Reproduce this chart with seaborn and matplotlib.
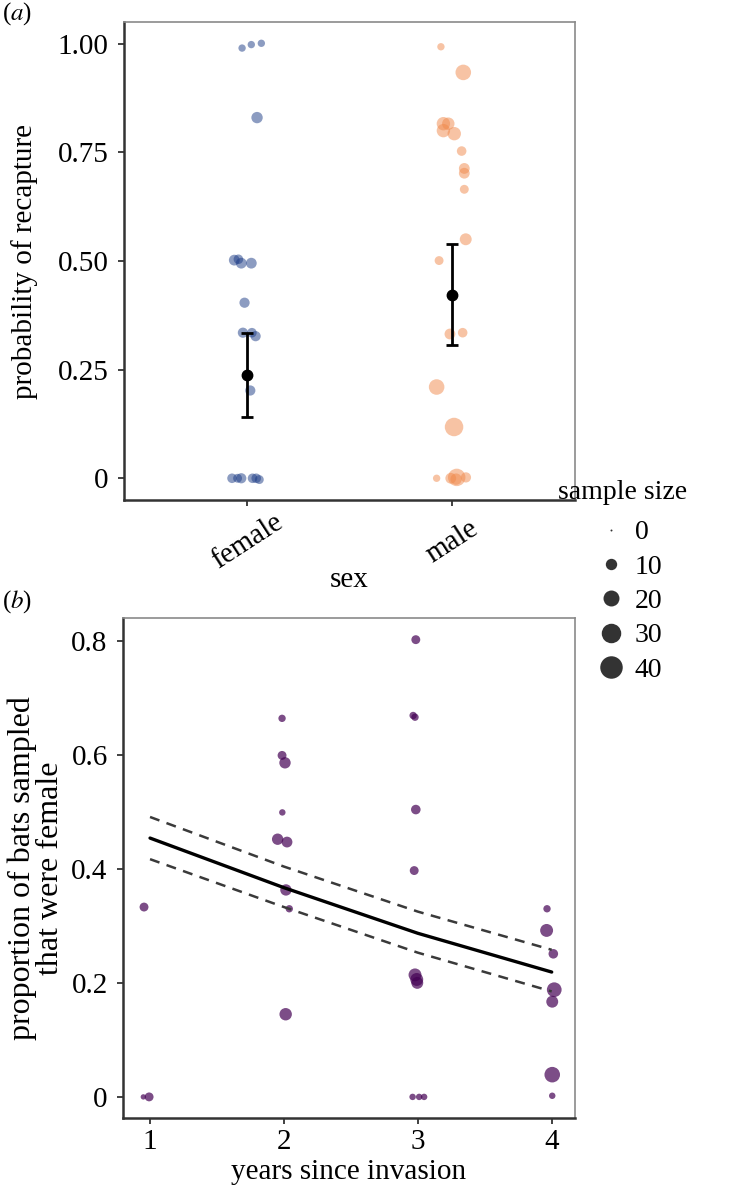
import matplotlib.pyplot as plt
import matplotlib.transforms as mtransforms
from matplotlib.lines import Line2D
import pandas as pd
import seaborn as sns

# (a) recapture probability, x = category index + jitter
fem_x = [-0.024, 0.021, 0.070, 0.049, -0.062, -0.042, -0.028, 0.021, -0.012, -0.020,
         0.024, 0.042, 0.016, -0.073, -0.046, -0.028, 0.027, 0.045, 0.060]
fem_y = [0.990, 0.998, 1.001, 0.830, 0.502, 0.504, 0.495, 0.495, 0.404, 0.335,
         0.335, 0.327, 0.202, 0.0, 0.0, 0.0, 0.0, 0.0, -0.003]
fem_n = [4, 4, 4, 10, 9, 7, 9, 9, 8, 8, 7, 8, 8, 7, 6, 8, 7, 7, 6]

male_x = [0.946, 1.055, 0.958, 0.982, 0.958, 1.011, 1.047, 1.060, 1.060, 1.060,
          1.067, 0.937, 0.990, 1.052, 0.925, 1.010, 0.925, 0.994, 1.023, 1.020, 1.068]
male_y = [0.993, 0.934, 0.816, 0.816, 0.800, 0.793, 0.753, 0.713, 0.702, 0.665,
          0.550, 0.501, 0.332, 0.335, 0.210, 0.118, 0.0, 0.0, 0.002, -0.002, 0.002]
male_n = [4, 19, 14, 12, 14, 14, 7, 9, 9, 6, 11, 6, 9, 7, 19, 27, 4, 9, 24, 10, 8]

sex_levels = ['female', 'male']
sex_mean = [0.237, 0.421]
sex_lo = [0.141, 0.306]
sex_hi = [0.335, 0.538]

# (b) proportion female by years since invasion
yr_x = [0.955, 0.950, 0.993,
        1.986, 1.986, 2.008, 1.988, 1.953, 2.023, 2.015, 2.040, 2.013,
        2.985, 2.965, 2.979, 2.985, 2.973, 2.979, 2.992, 2.996, 2.961, 3.010, 3.047,
        3.965, 3.962, 4.012, 4.019, 4.004, 4.004, 4.004]
yr_y = [0.333, 0.0, 0.0,
        0.664, 0.599, 0.586, 0.499, 0.452, 0.447, 0.363, 0.330, 0.145,
        0.802, 0.669, 0.666, 0.504, 0.397, 0.214, 0.206, 0.200, 0.0, 0.0, 0.0,
        0.330, 0.292, 0.251, 0.188, 0.167, 0.039, 0.002]
yr_n = [6, 2, 6,
        4, 6, 10, 3, 10, 9, 10, 4, 12,
        6, 4, 4, 7, 6, 13, 13, 11, 3, 3, 3,
        4, 13, 7, 17, 11, 19, 3]

years = [1, 2, 3, 4]
fit = [0.454, 0.367, 0.287, 0.219]
fit_hi = [0.491, 0.404, 0.325, 0.258]
fit_lo = [0.417, 0.333, 0.253, 0.185]

legend_n = [0, 10, 20, 30, 40]

sns.set_style("white")
plt.rcParams['font.family'] = ['Liberation Serif', 'DejaVu Serif']
plt.rcParams['mathtext.fontset'] = 'stix'
plt.rcParams['text.color'] = 'black'
plt.rcParams['axes.labelcolor'] = 'black'
plt.rcParams['xtick.labelcolor'] = 'black'
plt.rcParams['ytick.labelcolor'] = 'black'

SIZES = (2, 262)
NORM = (0, 40)
FS = 21


def style_axes(ax):
    for side in ['left', 'bottom']:
        ax.spines[side].set_color('#333333')
        ax.spines[side].set_linewidth(1.8)
    for side in ['top', 'right']:
        ax.spines[side].set_color('#8a8a8a')
        ax.spines[side].set_linewidth(1.2)
    ax.tick_params(axis='both', which='major', direction='out', length=4, width=1.3,
                   color='#333333', labelsize=FS, pad=7, bottom=True, left=True,
                   labelcolor='black')


fig = plt.figure(figsize=(7.32, 11.89), dpi=100)
ax1 = fig.add_axes([124 / 732, 1 - 500 / 1189, 451 / 732, 478 / 1189])
ax2 = fig.add_axes([123 / 732, 1 - 1118 / 1189, 452 / 732, 500 / 1189])

# panel (a)
df_a = pd.DataFrame({
    'x': fem_x + male_x,
    'y': fem_y + male_y,
    'n': fem_n + male_n,
    'sex': ['female'] * len(fem_x) + ['male'] * len(male_x),
})
sns.scatterplot(data=df_a, x='x', y='y', hue='sex', size='n', sizes=SIZES, size_norm=NORM,
                palette={'female': '#1a3a85', 'male': '#f0884a'}, alpha=0.5,
                linewidth=0, legend=False, ax=ax1)
pos = list(range(len(sex_levels)))
ax1.errorbar(pos, sex_mean,
             yerr=[[m - l for m, l in zip(sex_mean, sex_lo)],
                   [h - m for m, h in zip(sex_mean, sex_hi)]],
             fmt='o', color='black', ms=7.5, elinewidth=2, capsize=4.5, capthick=2, zorder=5)
ax1.set_xlim(-0.6, 1.6)
ax1.set_ylim(-0.05, 1.05)
ax1.set_xticks(pos)
ax1.set_xticklabels(sex_levels)
ax1.set_yticks([0, 0.25, 0.5, 0.75, 1.0])
ax1.set_yticklabels(['0', '0.25', '0.50', '0.75', '1.00'])
style_axes(ax1)
ax1.set_xlabel('sex', fontsize=FS)
ax1.set_ylabel('probability of recapture', fontsize=FS)
ax1.yaxis.set_label_coords(-0.19, 0.5)
ax1.xaxis.set_label_coords(0.5, -0.14)
shift = mtransforms.ScaledTranslation(-10 / 100, 0, fig.dpi_scale_trans)
for lab in ax1.get_xticklabels():
    lab.set_rotation(33)
    lab.set_rotation_mode('anchor')
    lab.set_ha('center')
    lab.set_va('center')
    lab.set_transform(lab.get_transform() + shift)
ax1.tick_params(axis='x', pad=26)

# panel (b)
df_b = pd.DataFrame({'x': yr_x, 'y': yr_y, 'n': yr_n})
sns.scatterplot(data=df_b, x='x', y='y', size='n', sizes=SIZES, size_norm=NORM,
                color='#440154', alpha=0.7, linewidth=0, legend=False, ax=ax2)
df_fit = pd.DataFrame({'year': years, 'fit': fit, 'hi': fit_hi, 'lo': fit_lo})
sns.lineplot(data=df_fit, x='year', y='fit', color='black', linewidth=2.4, ax=ax2)
sns.lineplot(data=df_fit, x='year', y='hi', color='#3a3a3a', linewidth=1.8,
             linestyle=(0, (4, 3)), ax=ax2)
sns.lineplot(data=df_fit, x='year', y='lo', color='#3a3a3a', linewidth=1.8,
             linestyle=(0, (4, 3)), ax=ax2)
ax2.set_xlim(0.798, 4.174)
ax2.set_ylim(-0.037, 0.84)
ax2.set_xticks(years)
ax2.set_yticks([0, 0.2, 0.4, 0.6, 0.8])
ax2.set_yticklabels(['0', '0.2', '0.4', '0.6', '0.8'])
style_axes(ax2)
ax2.tick_params(axis='x', pad=4)
ax2.set_xlabel('years since invasion', fontsize=FS)
ax2.set_ylabel('proportion of bats sampled\nthat were female', fontsize=23, linespacing=0.95)
ax2.yaxis.set_label_coords(-0.128, 0.5)
ax2.xaxis.set_label_coords(0.5, -0.082)

# sample size legend
handles = [Line2D([], [], marker='o', linestyle='', color='#333333', markeredgewidth=0,
                  markersize=(SIZES[0] + (SIZES[1] - SIZES[0]) * n / NORM[1]) ** 0.5)
           for n in legend_n]
fig.legend(handles, [str(n) for n in legend_n], loc='upper left',
           bbox_to_anchor=(597 / 732, 1 - 520 / 1189), frameon=False, fontsize=20,
           handlelength=1.0, handletextpad=0.35, labelspacing=0.32, borderpad=0,
           borderaxespad=0)
fig.text(558 / 732, 1 - 493 / 1189, 'sample size', fontsize=20, ha='left', va='center')

fig.text(2 / 732, 1 - 14 / 1189, '($a$)', fontsize=18, ha='left', va='center')
fig.text(2 / 732, 1 - 602 / 1189, '($b$)', fontsize=18, ha='left', va='center')

fig.savefig('out.png', dpi=100)
